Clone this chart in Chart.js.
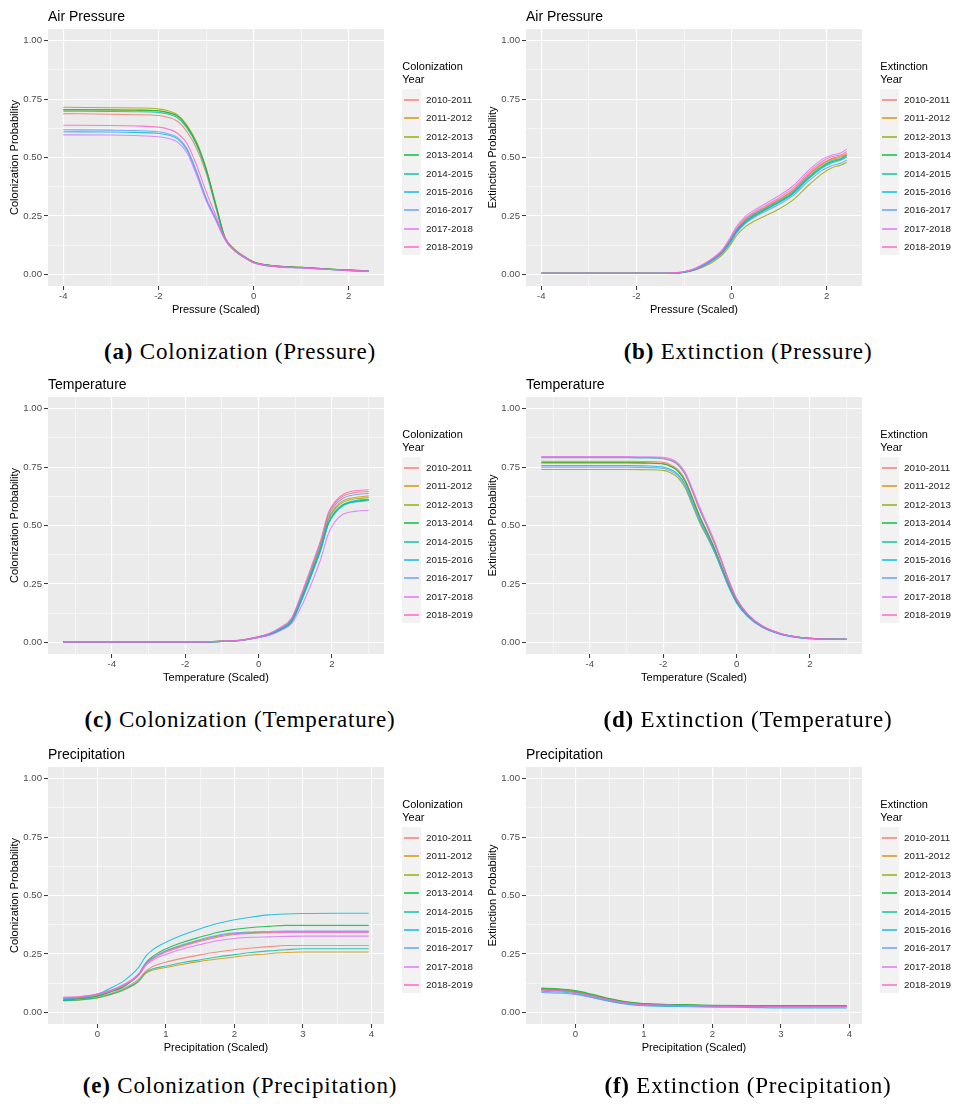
<!DOCTYPE html>
<html>
<head>
<meta charset="utf-8">
<title>Colonization and extinction probabilities</title>
<script src="https://cdn.jsdelivr.net/npm/chart.js@4.4.1/dist/chart.umd.min.js"></script>
<style>
  body { margin: 0; background: #ffffff; width: 954px; height: 1107px; position: relative; overflow: hidden;
         font-family: "Liberation Sans", Arial, sans-serif; }
  canvas { position: absolute; }
  .ptitle { position: absolute; font-size: 14px; line-height: 14px; color: #000; white-space: nowrap; }
  .legtitle { position: absolute; font-size: 11px; line-height: 12.6px; color: #000; white-space: nowrap; }
  .legbg { position: absolute; background: #F2F2F2; }
  .legline { position: absolute; height: 2px; }
  .leglab { position: absolute; font-size: 9.8px; line-height: 12px; color: #1A1A1A; white-space: nowrap; }
  .cap { position: absolute; font-family: "Liberation Serif", "Times New Roman", serif; font-size: 23px;
         line-height: 26px; white-space: nowrap; transform: translateX(-50%); letter-spacing: 0.8px; color: #000; }
</style>
</head>
<body>
<script>
// ---- series labels and colours ----
const years = ['2010-2011', '2011-2012', '2012-2013', '2013-2014', '2014-2015',
               '2015-2016', '2016-2017', '2017-2018', '2018-2019'];
const yearColors = ['#F8766D', '#D39200', '#93AA00', '#00BA38', '#00C19F',
                    '#00B9E3', '#619CFF', '#DB72FB', '#FF61C3'];

// ---- probability axis ----
const probTicks = [0, 0.25, 0.5, 0.75, 1];
const probTickLabels = ['0.00', '0.25', '0.50', '0.75', '1.00'];
const probMinor = [0.125, 0.375, 0.625, 0.875];

// ---- covariate axes ----
const pressureTicks = [-4, -2, 0, 2];
const pressureTickLabels = ['-4', '-2', '0', '2'];
const pressureMinor = [-3, -1, 1];
const temperatureTicks = [-4, -2, 0, 2];
const temperatureTickLabels = ['-4', '-2', '0', '2'];
const temperatureMinor = [-5, -3, -1, 1, 3];
const precipitationTicks = [0, 1, 2, 3, 4];
const precipitationTickLabels = ['0', '1', '2', '3', '4'];
const precipitationMinor = [-0.5, 0.5, 1.5, 2.5, 3.5];

// ---- (a) colonization vs pressure ----
const colPressureX = [-4, -3, -2.5, -2, -1.8, -1.6, -1.4, -1.2, -1.0, -0.8, -0.6, -0.4, -0.2, 0, 0.5, 1, 1.5, 2, 2.42];
const colPressure = [
  [0.688,0.685,0.683,0.680,0.672,0.655,0.610,0.540,0.435,0.290,0.150,0.102,0.074,0.052,0.034,0.029,0.023,0.017,0.014],
  [0.703,0.703,0.702,0.700,0.693,0.678,0.633,0.562,0.452,0.302,0.156,0.106,0.076,0.053,0.035,0.030,0.024,0.018,0.015],
  [0.715,0.713,0.712,0.708,0.700,0.683,0.638,0.567,0.456,0.305,0.158,0.108,0.077,0.054,0.035,0.030,0.024,0.018,0.015],
  [0.705,0.704,0.703,0.700,0.692,0.677,0.632,0.560,0.450,0.300,0.155,0.105,0.075,0.053,0.035,0.030,0.024,0.018,0.015],
  [0.698,0.697,0.696,0.693,0.686,0.670,0.625,0.555,0.446,0.297,0.153,0.104,0.074,0.052,0.034,0.029,0.023,0.017,0.014],
  [0.610,0.609,0.607,0.603,0.596,0.580,0.532,0.435,0.323,0.238,0.150,0.102,0.073,0.050,0.033,0.028,0.022,0.017,0.014],
  [0.619,0.617,0.615,0.610,0.602,0.586,0.538,0.441,0.328,0.241,0.151,0.103,0.074,0.051,0.033,0.028,0.022,0.017,0.014],
  [0.597,0.596,0.594,0.589,0.582,0.566,0.520,0.425,0.316,0.233,0.147,0.100,0.072,0.049,0.032,0.027,0.022,0.016,0.013],
  [0.638,0.637,0.635,0.630,0.622,0.604,0.560,0.468,0.355,0.255,0.155,0.104,0.075,0.051,0.034,0.029,0.023,0.017,0.015]
];

// ---- (b) extinction vs pressure ----
const extPressureX = [-4, -2, -1.4, -1.2, -1.0, -0.8, -0.6, -0.4, -0.2, -0.05, 0.1, 0.3, 0.5, 0.7, 1.0, 1.3, 1.6, 1.9, 2.1, 2.3, 2.42];
const extPressure = [
  [0.004,0.004,0.004,0.005,0.010,0.021,0.039,0.064,0.097,0.139,0.190,0.236,0.264,0.287,0.321,0.362,0.424,0.474,0.496,0.506,0.518],
  [0.004,0.004,0.004,0.005,0.010,0.020,0.038,0.063,0.096,0.137,0.187,0.233,0.261,0.284,0.318,0.359,0.420,0.470,0.492,0.502,0.514],
  [0.004,0.004,0.004,0.004,0.008,0.016,0.031,0.052,0.082,0.118,0.165,0.205,0.230,0.250,0.280,0.320,0.378,0.430,0.455,0.468,0.480],
  [0.004,0.004,0.004,0.005,0.010,0.019,0.037,0.061,0.093,0.132,0.182,0.226,0.254,0.277,0.310,0.350,0.410,0.460,0.482,0.494,0.510],
  [0.004,0.004,0.004,0.005,0.009,0.019,0.036,0.060,0.092,0.130,0.179,0.224,0.251,0.274,0.307,0.346,0.405,0.455,0.477,0.489,0.502],
  [0.004,0.004,0.004,0.005,0.010,0.021,0.039,0.064,0.097,0.136,0.186,0.231,0.259,0.281,0.314,0.354,0.414,0.463,0.486,0.496,0.508],
  [0.004,0.004,0.004,0.005,0.009,0.018,0.035,0.058,0.089,0.127,0.175,0.219,0.246,0.268,0.300,0.338,0.396,0.445,0.465,0.476,0.489],
  [0.004,0.004,0.004,0.006,0.012,0.023,0.043,0.069,0.105,0.150,0.203,0.250,0.278,0.301,0.337,0.380,0.442,0.492,0.510,0.520,0.536],
  [0.004,0.004,0.004,0.006,0.011,0.022,0.041,0.066,0.100,0.144,0.196,0.242,0.270,0.293,0.328,0.370,0.432,0.483,0.503,0.512,0.526]
];

// ---- (c) colonization vs temperature ----
const colTemperatureX = [-5.32, -3, -1.5, -1.0, -0.5, 0, 0.3, 0.6, 0.9, 1.2, 1.5, 1.7, 1.9, 2.1, 2.3, 2.5, 2.7, 3.0];
const colTemperature = [
  [0.002,0.002,0.002,0.004,0.009,0.024,0.037,0.062,0.100,0.215,0.345,0.435,0.548,0.598,0.625,0.637,0.642,0.645],
  [0.002,0.002,0.002,0.004,0.009,0.023,0.035,0.058,0.095,0.206,0.332,0.420,0.530,0.580,0.606,0.617,0.622,0.627],
  [0.002,0.002,0.002,0.004,0.009,0.023,0.035,0.057,0.093,0.203,0.328,0.415,0.524,0.573,0.599,0.610,0.615,0.620],
  [0.002,0.002,0.002,0.004,0.008,0.022,0.034,0.055,0.090,0.197,0.320,0.405,0.512,0.562,0.588,0.600,0.605,0.610],
  [0.002,0.002,0.002,0.004,0.008,0.022,0.033,0.054,0.088,0.193,0.315,0.400,0.505,0.556,0.584,0.597,0.602,0.607],
  [0.002,0.002,0.002,0.004,0.008,0.021,0.033,0.053,0.086,0.190,0.312,0.398,0.508,0.562,0.590,0.602,0.608,0.612],
  [0.002,0.002,0.002,0.004,0.009,0.023,0.036,0.060,0.097,0.210,0.338,0.428,0.540,0.590,0.617,0.628,0.633,0.637],
  [0.002,0.002,0.002,0.004,0.008,0.020,0.030,0.050,0.080,0.165,0.275,0.360,0.465,0.520,0.548,0.558,0.562,0.565],
  [0.002,0.002,0.002,0.005,0.010,0.025,0.039,0.065,0.105,0.222,0.352,0.442,0.555,0.605,0.633,0.645,0.650,0.653]
];

// ---- (d) extinction vs temperature ----
const extTemperatureX = [-5.32, -4, -3, -2.5, -2, -1.8, -1.6, -1.4, -1.2, -1.0, -0.8, -0.6, -0.4, -0.2, 0, 0.3, 0.7, 1.2, 1.7, 2.2, 3.0];
const extTemperature = [
  [0.775,0.775,0.775,0.774,0.770,0.760,0.740,0.695,0.620,0.540,0.474,0.403,0.323,0.243,0.177,0.116,0.068,0.037,0.022,0.015,0.013],
  [0.770,0.770,0.770,0.769,0.765,0.755,0.735,0.690,0.615,0.535,0.470,0.400,0.320,0.240,0.175,0.115,0.068,0.037,0.022,0.015,0.013],
  [0.740,0.740,0.740,0.739,0.736,0.726,0.705,0.660,0.585,0.510,0.450,0.385,0.308,0.232,0.170,0.112,0.066,0.036,0.021,0.015,0.013],
  [0.768,0.768,0.768,0.767,0.763,0.753,0.733,0.688,0.613,0.533,0.468,0.398,0.318,0.239,0.174,0.114,0.067,0.036,0.021,0.015,0.013],
  [0.790,0.790,0.790,0.789,0.786,0.778,0.760,0.718,0.645,0.565,0.495,0.422,0.340,0.255,0.184,0.119,0.069,0.037,0.022,0.015,0.013],
  [0.757,0.757,0.757,0.755,0.750,0.740,0.720,0.675,0.600,0.522,0.458,0.390,0.312,0.234,0.170,0.111,0.065,0.035,0.020,0.014,0.013],
  [0.750,0.750,0.750,0.748,0.744,0.734,0.713,0.668,0.593,0.516,0.453,0.386,0.309,0.232,0.168,0.110,0.064,0.034,0.020,0.014,0.013],
  [0.795,0.795,0.795,0.794,0.792,0.785,0.768,0.728,0.656,0.577,0.506,0.432,0.348,0.262,0.189,0.122,0.071,0.038,0.022,0.015,0.013],
  [0.792,0.792,0.792,0.791,0.788,0.780,0.762,0.720,0.648,0.568,0.498,0.425,0.342,0.257,0.185,0.120,0.070,0.038,0.022,0.015,0.013]
];

// ---- (e) colonization vs precipitation ----
const colPrecipitationX = [-0.5, -0.25, 0, 0.2, 0.4, 0.6, 0.7, 0.8, 1.0, 1.25, 1.5, 1.75, 2.0, 2.25, 2.5, 2.75, 3.0, 3.5, 3.96];
const colPrecipitation = [
  [0.058,0.061,0.068,0.082,0.105,0.142,0.175,0.195,0.215,0.232,0.246,0.258,0.268,0.275,0.281,0.286,0.286,0.286,0.286],
  [0.050,0.053,0.061,0.076,0.098,0.132,0.166,0.180,0.192,0.206,0.218,0.228,0.237,0.245,0.251,0.256,0.258,0.258,0.258],
  [0.055,0.060,0.072,0.090,0.115,0.160,0.205,0.230,0.262,0.287,0.308,0.326,0.336,0.341,0.343,0.345,0.345,0.345,0.345],
  [0.052,0.058,0.070,0.088,0.113,0.162,0.210,0.238,0.272,0.300,0.322,0.342,0.355,0.363,0.368,0.372,0.372,0.372,0.372],
  [0.050,0.054,0.063,0.078,0.100,0.135,0.170,0.185,0.198,0.213,0.225,0.237,0.247,0.256,0.263,0.268,0.272,0.272,0.272],
  [0.057,0.064,0.078,0.105,0.138,0.192,0.238,0.266,0.300,0.332,0.358,0.380,0.396,0.408,0.417,0.421,0.423,0.424,0.424],
  [0.060,0.064,0.075,0.092,0.118,0.162,0.208,0.232,0.265,0.290,0.312,0.330,0.340,0.344,0.346,0.348,0.348,0.348,0.348],
  [0.062,0.066,0.076,0.093,0.119,0.158,0.198,0.222,0.248,0.272,0.290,0.306,0.316,0.321,0.323,0.325,0.326,0.326,0.326],
  [0.065,0.068,0.078,0.095,0.122,0.165,0.205,0.228,0.258,0.283,0.304,0.322,0.333,0.338,0.340,0.342,0.342,0.342,0.342]
];

// ---- (f) extinction vs precipitation ----
const extPrecipitationX = [-0.5, -0.25, 0, 0.25, 0.5, 0.75, 1.0, 1.5, 2.0, 2.5, 3.0, 3.5, 3.96];
const extPrecipitation = [
  [0.102,0.098,0.089,0.073,0.056,0.043,0.036,0.032,0.028,0.027,0.027,0.027,0.027],
  [0.098,0.095,0.087,0.072,0.055,0.042,0.035,0.031,0.028,0.027,0.027,0.027,0.027],
  [0.100,0.097,0.089,0.074,0.057,0.044,0.036,0.033,0.029,0.028,0.028,0.028,0.028],
  [0.104,0.101,0.093,0.077,0.059,0.045,0.037,0.033,0.030,0.029,0.029,0.029,0.029],
  [0.098,0.095,0.086,0.070,0.053,0.040,0.033,0.030,0.027,0.026,0.026,0.026,0.026],
  [0.090,0.087,0.080,0.064,0.048,0.035,0.028,0.025,0.022,0.021,0.019,0.019,0.019],
  [0.085,0.082,0.076,0.062,0.047,0.036,0.030,0.027,0.025,0.024,0.024,0.024,0.024],
  [0.095,0.092,0.084,0.069,0.052,0.039,0.032,0.029,0.026,0.025,0.025,0.025,0.025],
  [0.096,0.093,0.085,0.070,0.054,0.041,0.034,0.030,0.027,0.026,0.026,0.026,0.026]
];

// ---- page layout ----
const COL_LEFT = [0, 478];
const CANVAS_W = [480, 476];
const ROW_TOP = [0, 368, 738];
const CANVAS_H = 330;
const PLOT_LEFT = 48, PLOT_TOP = 29, PLOT_W = 336, PLOT_H = 257;
const CAPTION_X = [240, 748];
const CAPTION_Y = [352, 720, 1086];
const FONT = '"Liberation Sans", Arial, sans-serif';

const panels = [
  { col: 0, row: 0, title: 'Air Pressure', xLabel: 'Pressure (Scaled)', yLabel: 'Colonization Probability',
    legendTitle: ['Colonization', 'Year'], xs: colPressureX, series: colPressure,
    xTicks: pressureTicks, xTickLabels: pressureTickLabels, xMinor: pressureMinor,
    tag: '(a)', caption: 'Colonization (Pressure)' },
  { col: 1, row: 0, title: 'Air Pressure', xLabel: 'Pressure (Scaled)', yLabel: 'Extinction Probability',
    legendTitle: ['Extinction', 'Year'], xs: extPressureX, series: extPressure,
    xTicks: pressureTicks, xTickLabels: pressureTickLabels, xMinor: pressureMinor,
    tag: '(b)', caption: 'Extinction (Pressure)' },
  { col: 0, row: 1, title: 'Temperature', xLabel: 'Temperature (Scaled)', yLabel: 'Colonization Probability',
    legendTitle: ['Colonization', 'Year'], xs: colTemperatureX, series: colTemperature,
    xTicks: temperatureTicks, xTickLabels: temperatureTickLabels, xMinor: temperatureMinor,
    tag: '(c)', caption: 'Colonization (Temperature)' },
  { col: 1, row: 1, title: 'Temperature', xLabel: 'Temperature (Scaled)', yLabel: 'Extinction Probability',
    legendTitle: ['Extinction', 'Year'], xs: extTemperatureX, series: extTemperature,
    xTicks: temperatureTicks, xTickLabels: temperatureTickLabels, xMinor: temperatureMinor,
    tag: '(d)', caption: 'Extinction (Temperature)' },
  { col: 0, row: 2, title: 'Precipitation', xLabel: 'Precipitation (Scaled)', yLabel: 'Colonization Probability',
    legendTitle: ['Colonization', 'Year'], xs: colPrecipitationX, series: colPrecipitation,
    xTicks: precipitationTicks, xTickLabels: precipitationTickLabels, xMinor: precipitationMinor,
    tag: '(e)', caption: 'Colonization (Precipitation)' },
  { col: 1, row: 2, title: 'Precipitation', xLabel: 'Precipitation (Scaled)', yLabel: 'Extinction Probability',
    legendTitle: ['Extinction', 'Year'], xs: extPrecipitationX, series: extPrecipitation,
    xTicks: precipitationTicks, xTickLabels: precipitationTickLabels, xMinor: precipitationMinor,
    tag: '(f)', caption: 'Extinction (Precipitation)' }
];

// grey panel background behind the grid
const panelBackground = {
  id: 'panelBackground',
  beforeDraw(chart) {
    const { ctx, chartArea: a } = chart;
    ctx.save();
    ctx.fillStyle = '#EBEBEB';
    ctx.fillRect(a.left, a.top, a.right - a.left, a.bottom - a.top);
    ctx.restore();
  }
};

const near = (list, v) => list.findIndex(t => Math.abs(t - v) < 1e-9);

function gridFor(major) {
  return {
    color: '#FFFFFF',
    lineWidth: c => (c.tick && near(major, c.tick.value) >= 0) ? 1.1 : 0.55,
    tickColor: c => (c.tick && near(major, c.tick.value) >= 0) ? '#333333' : 'rgba(0,0,0,0)',
    tickWidth: 1,
    tickLength: 4,
    drawTicks: true
  };
}

function addDiv(cls, left, top, text) {
  const d = document.createElement('div');
  d.className = cls;
  d.style.left = left + 'px';
  d.style.top = top + 'px';
  if (text !== undefined) d.textContent = text;
  document.body.appendChild(d);
  return d;
}

function buildPanel(p) {
  const left = COL_LEFT[p.col], top = ROW_TOP[p.row], w = CANVAS_W[p.col];
  const canvas = document.createElement('canvas');
  canvas.width = w; canvas.height = CANVAS_H;
  canvas.style.left = left + 'px'; canvas.style.top = top + 'px';
  canvas.style.width = w + 'px'; canvas.style.height = CANVAS_H + 'px';
  document.body.appendChild(canvas);

  const x0 = p.xs[0], x1 = p.xs[p.xs.length - 1], pad = (x1 - x0) * 0.05;
  const xAll = p.xTicks.concat(p.xMinor).sort((a, b) => a - b);
  const yAll = probTicks.concat(probMinor).sort((a, b) => a - b);

  new Chart(canvas, {
    type: 'line',
    data: {
      datasets: p.series.map((ys, i) => ({
        label: years[i],
        data: ys.map((y, j) => ({ x: p.xs[j], y: y })),
        borderColor: yearColors[i] + 'D0',
        borderWidth: 1.1,
        pointRadius: 0,
        fill: false,
        cubicInterpolationMode: 'monotone',
        order: years.length - i
      }))
    },
    options: {
      responsive: false,
      animation: false,
      devicePixelRatio: 1,
      layout: { padding: { left: 0, top: PLOT_TOP, right: w - PLOT_LEFT - PLOT_W, bottom: 0 } },
      plugins: { legend: { display: false }, tooltip: { enabled: false }, title: { display: false } },
      scales: {
        x: {
          type: 'linear', min: x0 - pad, max: x1 + pad,
          afterFit: s => { s.height = CANVAS_H - PLOT_TOP - PLOT_H; },
          afterBuildTicks: s => { s.ticks = xAll.map(v => ({ value: v })); },
          ticks: {
            autoSkip: false, maxRotation: 0, padding: 1, color: '#4D4D4D',
            font: { family: FONT, size: 9.6 },
            callback: v => { const k = near(p.xTicks, v); return k >= 0 ? p.xTickLabels[k] : ''; }
          },
          grid: gridFor(p.xTicks),
          border: { display: false },
          title: { display: true, text: p.xLabel, color: '#000000',
                   font: { family: FONT, size: 11 }, padding: { top: 0, bottom: 13 } }
        },
        y: {
          type: 'linear', min: -0.05, max: 1.05,
          afterFit: s => { s.width = PLOT_LEFT; },
          afterBuildTicks: s => { s.ticks = yAll.map(v => ({ value: v })); },
          ticks: {
            autoSkip: false, padding: 2, color: '#4D4D4D',
            font: { family: FONT, size: 9.6 },
            callback: v => { const k = near(probTicks, v); return k >= 0 ? probTickLabels[k] : ''; }
          },
          grid: gridFor(probTicks),
          border: { display: false },
          title: { display: true, text: p.yLabel, color: '#000000',
                   font: { family: FONT, size: 11 }, padding: { top: 8.4, bottom: 0 } }
        }
      }
    },
    plugins: [panelBackground]
  });

  // panel title
  const plotLeft = left + PLOT_LEFT, plotTop = top + PLOT_TOP, plotRight = plotLeft + PLOT_W;
  addDiv('ptitle', plotLeft, plotTop - 20.3, p.title);

  // legend
  addDiv('legtitle', plotRight + 18.3, plotTop + 31.4, p.legendTitle[0]);
  addDiv('legtitle', plotRight + 18.3, plotTop + 44.0, p.legendTitle[1]);
  const bg = addDiv('legbg', plotRight + 18, plotTop + 60);
  bg.style.width = '19px'; bg.style.height = '166px';
  years.forEach((yr, i) => {
    const cy = Math.round(plotTop + 71 + 18.4 * i);
    const ln = addDiv('legline', plotRight + 20, cy - 1);
    ln.style.width = '15px';
    ln.style.background = yearColors[i];
    ln.style.opacity = '0.7';
    addDiv('leglab', plotRight + 42, cy - 6, yr);
  });

  // sub-figure caption
  const cap = addDiv('cap', CAPTION_X[p.col], CAPTION_Y[p.row] - 13);
  const b = document.createElement('b');
  b.textContent = p.tag;
  cap.appendChild(b);
  cap.appendChild(document.createTextNode(' ' + p.caption));
}

panels.forEach(buildPanel);
</script>
</body>
</html>
